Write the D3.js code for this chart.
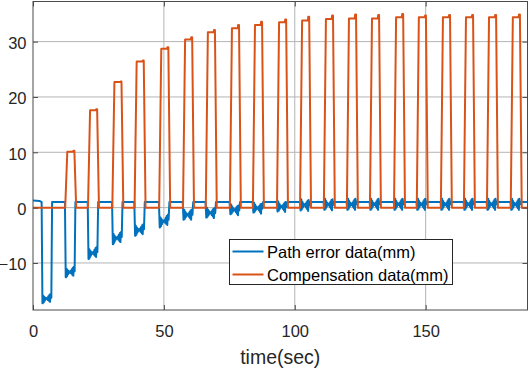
<!DOCTYPE html>
<html>
<head>
<meta charset="utf-8">
<script src="https://cdn.jsdelivr.net/npm/d3@7"></script>
<style>
  body { margin: 0; background: #fff; }
  svg { display: block; font-family: "Liberation Sans", Arial, sans-serif; }
</style>
</head>
<body>
<div id="chart"></div>
<script>
// axis ticks
const xTicks = [0, 50, 100, 150];
const yTicks = [-10, 0, 10, 20, 30];

// compensation pulses: time of top-left corner (sec), flat top value, end hook value (mm)
const pulseTimes = [13.1, 21.8, 31.1, 39.6, 49.0, 58.1, 66.8, 76.0, 84.8, 94.0,
                    102.8, 111.9, 120.7, 129.5, 138.7, 147.4, 156.6, 165.4, 174.2, 183.3];
const compPeak = [10.1, 17.6, 22.7, 26.4, 28.7, 30.4, 31.7, 32.4, 33.0, 33.5,
                  33.8, 34.1, 34.2, 34.2, 34.4, 34.4, 34.4, 34.4, 34.4, 34.4];
const compHook = [10.3, 17.8, 22.8, 26.6, 29.0, 30.8, 32.1, 33.0, 33.6, 34.0,
                  34.5, 34.7, 34.9, 34.8, 35.0, 34.7, 34.8, 34.8, 34.8, 34.9];

// path error dips: time, lowest value, value at end of dip, ripple size (mm)
const errTimes = [4.2, 13.1, 21.8, 31.1, 39.6, 49.0, 58.1, 66.8, 76.0, 84.8, 94.0,
                  102.8, 111.9, 120.7, 129.5, 138.7, 147.4, 156.6, 165.4, 174.2, 183.3];
const errMin = [-17.3, -12.6, -9.3, -6.6, -5.1, -3.6, -2.2, -1.8, -1.2, -0.9, -0.7,
                -0.5, -0.4, -0.4, -0.4, -0.4, -0.4, -0.4, -0.4, -0.4, -0.4];
const errEnd = [-16.3, -11.5, -8.0, -5.3, -3.9, -2.2, -1.3, -1.0, -0.5, -0.2, 0.1,
                0.4, 0.5, 0.6, 0.6, 0.6, 0.6, 0.6, 0.6, 0.6, 0.6];
const errRipple = [0.7, 0.8, 0.9, 0.9, 0.9, 0.9, 0.9, 0.9, 0.9, 0.9, 0.9,
                   1.0, 1.0, 1.0, 1.0, 1.0, 1.0, 1.0, 1.0, 1.0, 1.0];
const errStart = 1.3;
const errBase = 1.0;

// shape of the oscillation seen inside each dip (sec offset, relative swing)
const rippleOffset = [-0.5, -0.3, -0.1, 0.1, 0.3, 0.5, 0.7, 0.9, 1.1, 1.3, 1.5, 1.7, 1.9, 2.1, 2.3, 2.5];
const rippleGain = [-1, 1, -0.8, 0.6, -0.45, 0.3, -0.15, 0.05, -0.1, 0.25, -0.4, 0.55, -0.7, 0.85, -1, 1];

const seriesNames = ['Path error data(mm)', 'Compensation data(mm)'];
const colors = ['#0072BD', '#D95319'];

const width = 529;
const height = 369;
const margin = { top: 1.5, right: 1.5, bottom: 59, left: 33 };
const xMax = 188.9;

const svg = d3.select('#chart')
    .append('svg')
    .attr('width', width)
    .attr('height', height);

const xScale = d3.scaleLinear()
    .domain([0, xMax])
    .range([margin.left, width - margin.right]);

const yScale = d3.scaleLinear()
    .domain([-18.5, 37.25])
    .range([height - margin.bottom, margin.top]);

// build the two polylines from the pulse readings
const compData = [[0, 0]];
pulseTimes.forEach((p, i) => {
    compData.push([p - 0.8, 0], [p, compPeak[i]], [p + 2.2, compPeak[i]],
                  [p + 2.35, compHook[i]], [p + 2.7, compHook[i]], [p + 3.4, 0]);
});
compData.push([xMax, 0]);

const errData = [[0, errStart], [2.5, errStart - 0.1]];
const span = rippleOffset[rippleOffset.length - 1] - rippleOffset[0];
errTimes.forEach((p, i) => {
    const r = errRipple[i];
    const c0 = errMin[i] + r;
    const c1 = errEnd[i];
    errData.push([p - 0.9, errBase], [p - 0.6, errMin[i]]);
    rippleOffset.forEach((o, j) => {
        const f = (o - rippleOffset[0]) / span;
        errData.push([p + o, c0 + (c1 - c0) * f + rippleGain[j] * r]);
    });
    errData.push([p + 2.8, c1], [p + 3.1, errBase]);
});
errData.push([xMax, errBase]);

const x0 = xScale.range()[0], x1 = xScale.range()[1];
const y0 = yScale.range()[1], y1 = yScale.range()[0];

// grid
const grid = svg.append('g').attr('stroke', '#b4b4b4').attr('stroke-width', 1);
grid.selectAll('.gx')
    .data(xTicks.filter(d => d > 0))
    .join('line')
    .attr('x1', d => xScale(d)).attr('x2', d => xScale(d))
    .attr('y1', y0).attr('y2', y1);
grid.selectAll('.gy')
    .data(yTicks)
    .join('line')
    .attr('x1', x0).attr('x2', x1)
    .attr('y1', d => yScale(d)).attr('y2', d => yScale(d));

svg.append('clipPath')
    .attr('id', 'clip')
    .append('rect')
    .attr('x', x0).attr('y', y0)
    .attr('width', x1 - x0).attr('height', y1 - y0);

const line = d3.line()
    .x(d => xScale(d[0]))
    .y(d => yScale(d[1]));

svg.append('g')
    .attr('clip-path', 'url(#clip)')
    .selectAll('path')
    .data([errData, compData])
    .join('path')
    .attr('d', d => line(d))
    .attr('fill', 'none')
    .attr('stroke', (d, i) => colors[i])
    .attr('stroke-width', 2)
    .attr('stroke-linejoin', 'round');

// axes with inward ticks
const axisColor = '#4a4a4a';
const tickFont = 16.5;

const xAxis = svg.append('g')
    .attr('transform', `translate(0,${y1})`)
    .call(d3.axisBottom(xScale).tickValues(xTicks).tickSize(-5).tickPadding(15.5));
const yAxis = svg.append('g')
    .attr('transform', `translate(${x0},0)`)
    .call(d3.axisLeft(yScale).tickValues(yTicks).tickSize(-5).tickPadding(6.5));
const xTop = svg.append('g')
    .attr('transform', `translate(0,${y0})`)
    .call(d3.axisTop(xScale).tickValues(xTicks).tickSize(-5).tickFormat(''));
const yRight = svg.append('g')
    .attr('transform', `translate(${x1},0)`)
    .call(d3.axisRight(yScale).tickValues(yTicks).tickSize(-5).tickFormat(''));

[xAxis, yAxis, xTop, yRight].forEach(g => {
    g.select('.domain').remove();
    g.selectAll('line').attr('stroke', axisColor);
    g.selectAll('text')
        .attr('fill', '#262626')
        .style('font-size', tickFont + 'px')
        .style('font-family', '"Liberation Sans", Arial, sans-serif');
});
yAxis.selectAll('text').attr('dy', '0.42em');

svg.append('rect')
    .attr('x', x0).attr('y', y0)
    .attr('width', x1 - x0).attr('height', y1 - y0)
    .attr('fill', 'none')
    .attr('stroke', axisColor)
    .attr('stroke-width', 1);

// axis title
svg.append('text')
    .attr('x', (x0 + x1) / 2)
    .attr('y', 364)
    .attr('text-anchor', 'middle')
    .style('font-size', '19.5px')
    .style('fill', '#262626')
    .text('time(sec)');

// legend
const legend = svg.append('g').attr('transform', 'translate(229.5,239.5)');
legend.append('rect')
    .attr('width', 223)
    .attr('height', 45)
    .attr('fill', '#fff')
    .attr('stroke', '#262626')
    .attr('stroke-width', 1);
const rows = legend.selectAll('g.row')
    .data(seriesNames)
    .join('g')
    .attr('transform', (d, i) => `translate(0,${12 + i * 23})`);
rows.append('line')
    .attr('x1', 3).attr('x2', 34)
    .attr('stroke', (d, i) => colors[i])
    .attr('stroke-width', 2);
rows.append('text')
    .attr('x', 37.5)
    .attr('y', 6)
    .style('font-size', '16.5px')
    .style('fill', '#000')
    .text(d => d);
</script>
</body>
</html>
